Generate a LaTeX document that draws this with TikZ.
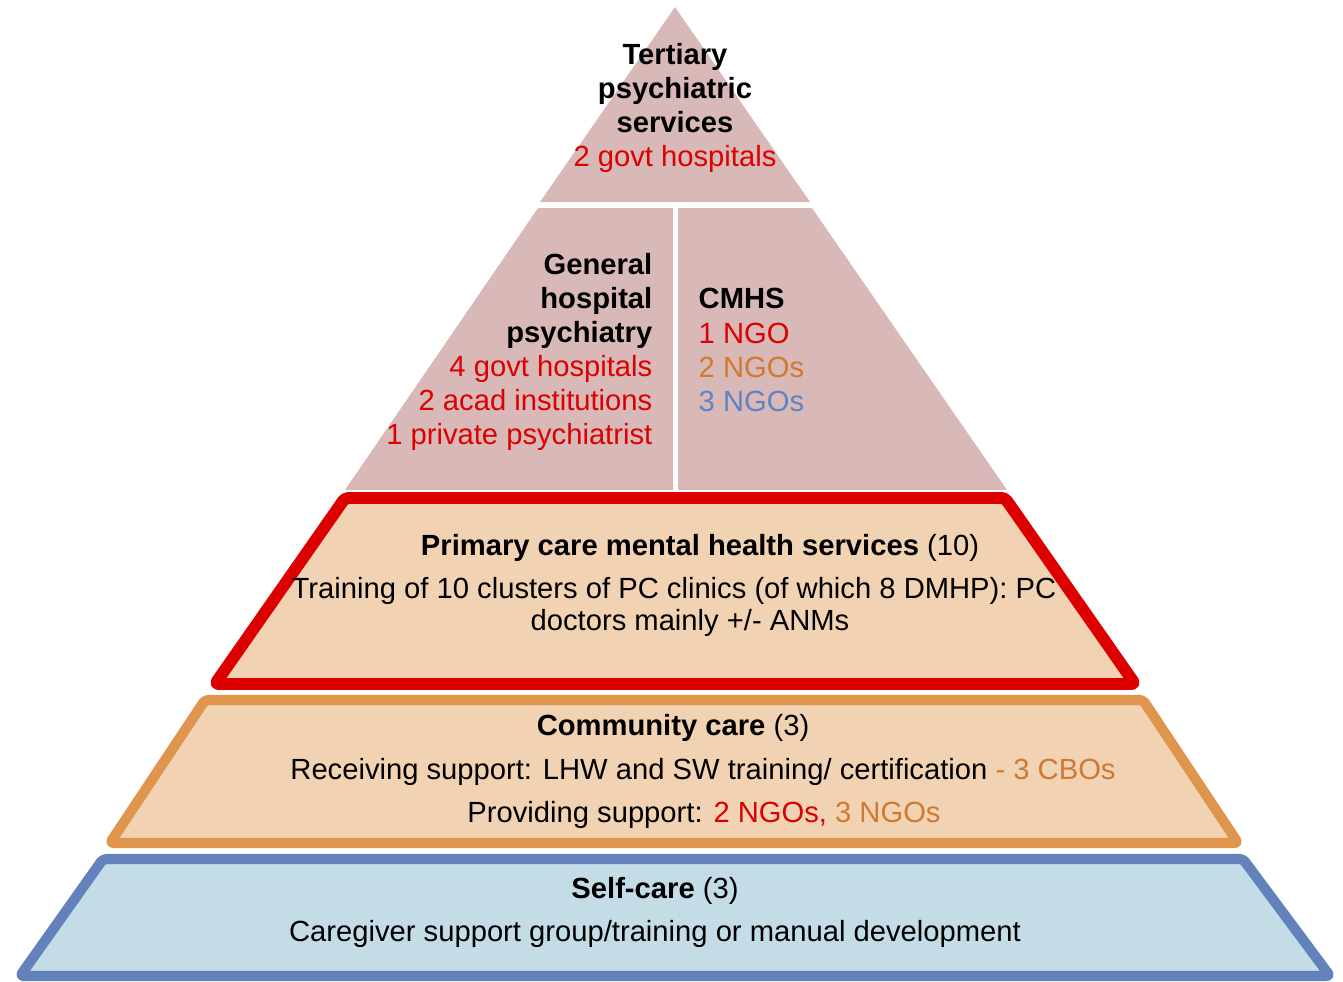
\documentclass[tikz,border=0pt]{standalone}
\usepackage{fontspec}
\setmainfont{Liberation Sans}
\usepackage{xcolor}
\definecolor{tierpink}{HTML}{D9B8B8}
\definecolor{peach}{HTML}{F1D3B4}
\definecolor{paleblue}{HTML}{C3DCE6}
\definecolor{pcred}{HTML}{DC0000}
\definecolor{ngoorange}{HTML}{CF7A30}
\definecolor{ccorange}{HTML}{E0954E}
\definecolor{scblue}{HTML}{6382BC}
\definecolor{ngoblue}{HTML}{5E84C4}

\begin{document}
\begin{tikzpicture}[x=0.01cm, y=-0.01cm,
  tier/.style={fill=tierpink, draw=none},
  band/.style={line width=#1, line join=round, rounded corners=1pt},
  txt/.style={inner sep=0pt, font=\fontsize{8.3pt}{9.7pt}\selectfont}]
\useasboundingbox (0,0) rectangle (1343,981);

% top of the pyramid
\fill [tier] (675,7) -- (540,202) -- (810,202) -- cycle;
\fill [tier] (538,208) -- (673,208) -- (673,490) -- (345,490) -- cycle;
\fill [tier] (678,208) -- (812,208) -- (1007,490) -- (678,490) -- cycle;

% lower bands
\draw [band=3.4pt, draw=pcred, fill=peach] (345,498) -- (1005,498) -- (1135,684) -- (215,684) -- cycle;
\draw [band=2.9pt, draw=ccorange, fill=peach] (205,700) -- (1143,700) -- (1238,843) -- (110,843) -- cycle;
\draw [band=2.9pt, draw=scblue, fill=paleblue] (103,859) -- (1243,859) -- (1330,976) -- (20,976) -- cycle;

\node (tertiary) [txt, align=center] at (675,108) {\textbf{Tertiary}\\\textbf{psychiatric}\\\textbf{services}\\\textcolor{pcred}{2 govt hospitals}};
\node (general) [txt, align=right, anchor=east] at (653,352) {\textbf{General}\\\textbf{hospital}\\\textbf{psychiatry}\\\textcolor{pcred}{4 govt hospitals}\\\textcolor{pcred}{2 acad institutions}\\\textcolor{pcred}{1 private psychiatrist}};
\node (cmhs) [txt, align=left, anchor=west] at (698,350) {\textbf{CMHS}\\\textcolor{pcred}{1 NGO}\\\textcolor{ngoorange}{2 NGOs}\\\textcolor{ngoblue}{3 NGOs}};

\node (primary) [txt] at (700,548) {\textbf{Primary care mental health services} (10)};
\node (training) [txt] at (674,591) {Training of 10 clusters of PC clinics (of which 8 DMHP): PC};
\node (doctors) [txt] at (690,623) {doctors mainly +/- ANMs};

\node (community) [txt] at (673,728) {\textbf{Community care} (3)};
\node (receiving) [txt] at (703,772) {Receiving support: LHW and SW training/ certification \textcolor{ngoorange}{- 3 CBOs}};
\node (providing) [txt] at (704,815) {Providing support: \textcolor{pcred}{2 NGOs,} \textcolor{ngoorange}{3 NGOs}};

\node (selfcare) [txt] at (655,891) {\textbf{Self-care} (3)};
\node (caregiver) [txt] at (655,934) {Caregiver support group/training or manual development};
\end{tikzpicture}
\end{document}
